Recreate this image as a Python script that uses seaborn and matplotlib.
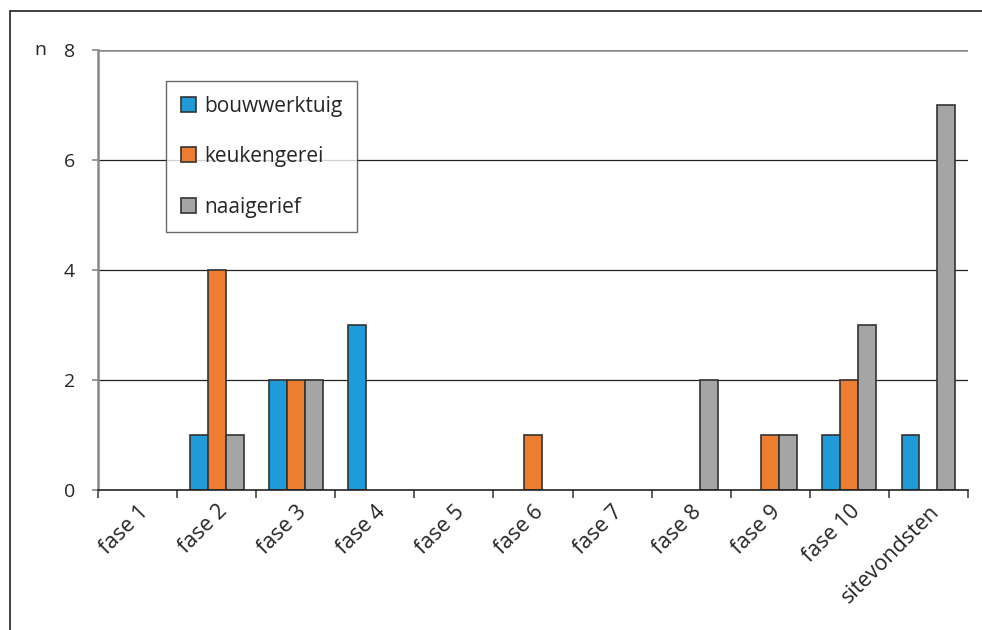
import matplotlib
matplotlib.use("Agg")
import matplotlib.pyplot as plt
import seaborn as sns
import pandas as pd
from matplotlib.patches import Rectangle
from matplotlib.lines import Line2D

categories = ["fase 1", "fase 2", "fase 3", "fase 4", "fase 5", "fase 6",
              "fase 7", "fase 8", "fase 9", "fase 10", "sitevondsten"]
bouwwerktuig = [0, 1, 2, 3, 0, 0, 0, 0, 0, 1, 1]
keukengerei = [0, 4, 2, 0, 0, 1, 0, 0, 1, 2, 0]
naaigerief = [0, 1, 2, 0, 0, 0, 0, 2, 1, 3, 7]
series = ["bouwwerktuig", "keukengerei", "naaigerief"]
colors = ["#1f9bd7", "#ed7d31", "#a5a5a5"]
yticks = [0, 2, 4, 6, 8]

df = pd.DataFrame({
    "fase": categories * 3,
    "soort": [s for s in series for _ in categories],
    "n": bouwwerktuig + keukengerei + naaigerief,
})

sns.set_style("white")
plt.rcParams["font.family"] = ["Open Sans", "DejaVu Sans"]

fig = plt.figure(figsize=(9.82, 6.3), dpi=100)
ax = fig.add_axes([98 / 982, 1 - 490 / 630, 870 / 982, 440 / 630])

sns.barplot(data=df, x="fase", y="n", hue="soort", order=categories,
            hue_order=series, palette=colors, saturation=1, width=0.68,
            ax=ax, edgecolor="#333333", linewidth=1.2, legend=False,
            zorder=3)
# empty categories get no visible outline
for p in ax.patches:
    if p.get_height() == 0:
        p.set_visible(False)

ax.set_xlim(-0.5, len(categories) - 0.5)
ax.set_ylim(0, 8)
ax.set_yticks(yticks)
ax.set_yticklabels([str(v) for v in yticks], fontsize=14)
for v in yticks[1:-1]:
    ax.axhline(v, color="#222222", lw=0.9, zorder=1)
ax.axhline(8, color="#888888", lw=1.8, zorder=1)

for side in ["top", "right"]:
    ax.spines[side].set_visible(False)
ax.spines["left"].set_color("#888888")
ax.spines["left"].set_linewidth(1.8)
ax.spines["bottom"].set_color("#222222")
ax.spines["bottom"].set_linewidth(1.2)
ax.spines["bottom"].set_zorder(4)

ax.set_xticks([i - 0.5 for i in range(len(categories) + 1)], minor=False)
ax.set_xticklabels([])
ax.set_xticks(range(len(categories)), minor=True)
ax.set_xticklabels(categories, minor=True, rotation=45, ha="right",
                   rotation_mode="anchor", fontsize=15.5)
ax.tick_params(axis="x", which="major", length=6, width=1.2,
               color="#444444", direction="out", bottom=True)
ax.tick_params(axis="x", which="minor", length=0, pad=8)
ax.tick_params(axis="y", length=4.5, width=1.2, color="#888888",
               direction="out", left=True, pad=12)
ax.set_xlabel("")
ax.set_ylabel("")
ax.text(40 / 982, 1 - 50 / 630, "n", transform=fig.transFigure, fontsize=14,
        ha="center", va="center")

handles = [Rectangle((0, 0), 1, 1, facecolor=c, edgecolor="#333333", lw=1.2)
           for c in colors]
leg = ax.legend(handles, series, loc="upper left",
                bbox_to_anchor=(166 / 982, 1 - 81 / 630),
                bbox_transform=fig.transFigure, fontsize=15, frameon=True,
                fancybox=False, edgecolor="#444444", handlelength=0.72,
                handleheight=0.72, handletextpad=0.42, labelspacing=1.42,
                borderpad=0.7, borderaxespad=0)
leg.get_frame().set_linewidth(1.0)
leg.set_zorder(5)

# outer frame
fig.add_artist(Line2D([10 / 982, 10 / 982], [0, 1 - 11 / 630],
                      transform=fig.transFigure, color="#333333", lw=1.3))
fig.add_artist(Line2D([10 / 982, 1], [1 - 11 / 630, 1 - 11 / 630],
                      transform=fig.transFigure, color="#333333", lw=1.3))

fig.savefig("out.png", dpi=100)
